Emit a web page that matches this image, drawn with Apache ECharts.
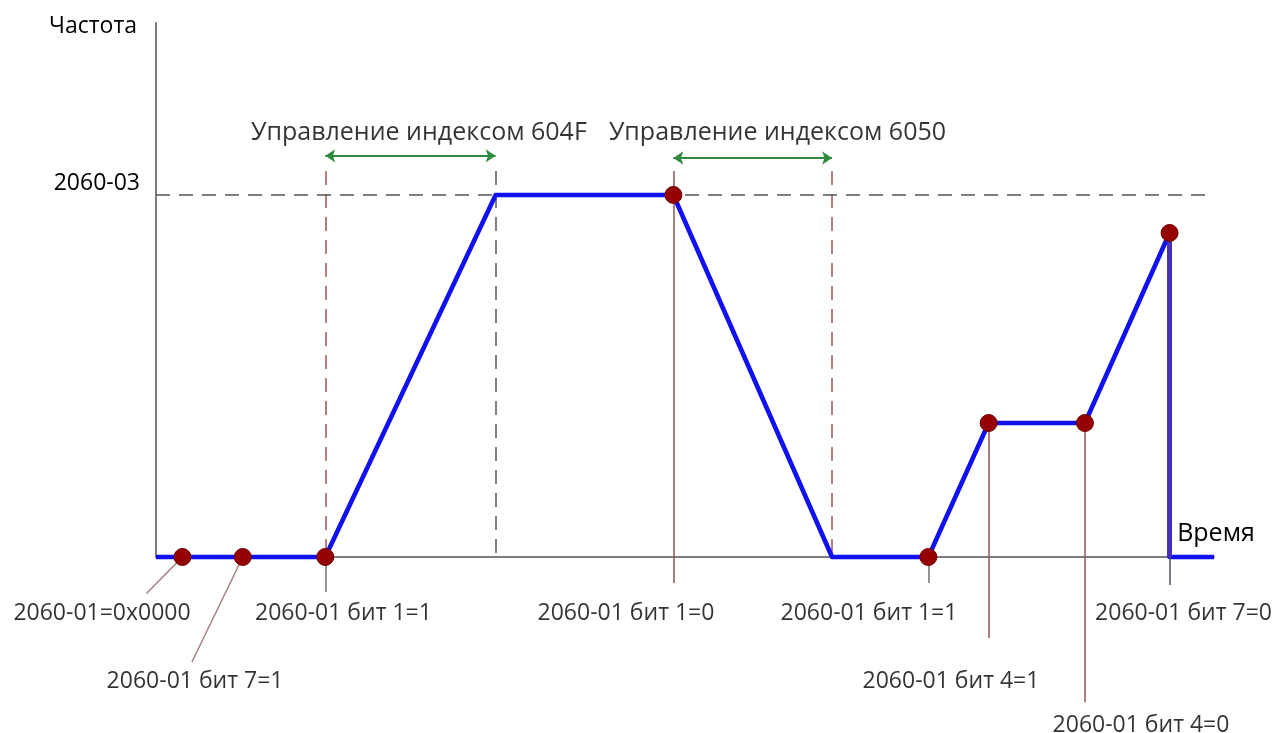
<!DOCTYPE html>
<html>
<head>
<meta charset="utf-8">
<script src="https://cdn.jsdelivr.net/npm/echarts@6/dist/echarts.min.js"></script>
<style>
  html, body { margin: 0; padding: 0; background: #ffffff; }
  #chart { width: 1275px; height: 733px; }
</style>
</head>
<body>
<div id="chart"></div>
<script>
// Frequency profile over time (time in relative units 0..100, frequency in % of the 2060-03 limit)
const profileTime = [0, 2.5, 8.2, 16.0, 32.1, 48.9, 63.9, 73.0, 78.7, 87.8, 95.8, 95.8, 100];
const profileFreq = [0, 0, 0, 0, 100, 100, 0, 0, 37, 37, 89.5, 0, 0];

// Control-word events (dots on the profile)
const eventTime = [2.5, 8.2, 16.0, 48.9, 73.0, 78.7, 87.8, 95.8];
const eventFreq = [0, 0, 0, 100, 0, 37, 37, 89.5];
const eventText = ['2060-01=0x0000', '2060-01 бит 7=1', '2060-01 бит 1=1', '2060-01 бит 1=0',
                   '2060-01 бит 1=1', '2060-01 бит 4=1', '2060-01 бит 4=0', '2060-01 бит 7=0'];

// Ramp phases controlled by objects 604F / 6050
const phaseStart = [16.0, 48.9];
const phaseEnd = [32.1, 63.9];
const phaseText = ['Управление индексом 604F', 'Управление индексом 6050'];

// Axis texts
const freqLimitValue = 100;
const freqLimitText = '2060-03';
const yAxisTitle = 'Частота';
const xAxisTitle = 'Время';

// ---- layout of annotations (data coordinates) ----
const guideTop = 106.6;
const arrowLevel = [110.8, 110.2];
const phaseTextLevel = 117.2;
const phaseTextX = [24.85, 58.74];
// label anchor [x, y] per event, and end point of its leader line
const eventLabelPos = [[-5.1, -15.5], [3.69, -34.4], [17.72, -15.5], [44.42, -15.5],
                       [67.39, -15.5], [75.14, -34.4], [93.1, -46.4], [97.12, -15.5]];
const leaderEnd = [[-0.9, -10.1], [3.4, -29.0], [16.0, -9.7], [48.9, -7.2],
                   [73.0, -7.2], [78.7, -22.4], [87.8, -40.1], [95.8, -7.7]];
const leaderColor = ['#a48282', '#a48282', '#707070', '#8e5656', '#707070', '#8e5656', '#8e5656', '#5a4a6a'];

const FONT = 'Open Sans';
const FS = 23;
const FS_WIDE = 25;
const INK = '#000000';

const chart = echarts.init(document.getElementById('chart'), null, { renderer: 'canvas' });

// dashed guides
const guideLines = [
  { coords: [[phaseStart[0], guideTop], [phaseStart[0], 0]], lineStyle: { color: '#9b5555' } },
  { coords: [[phaseEnd[0], guideTop], [phaseEnd[0], 0]], lineStyle: { color: '#555555' } },
  { coords: [[phaseEnd[1], guideTop], [phaseEnd[1], 0]], lineStyle: { color: '#9b5555' } },
  { coords: [[0, freqLimitValue], [100, freqLimitValue]], lineStyle: { color: '#555555' } }
];

// leader lines from each event to its label
const leaderLines = eventTime.map((t, i) => {
  let startY = eventFreq[i];
  if (i === 3) startY = guideTop;   // 604F->6050 boundary line runs full height
  return { coords: [[t, startY], leaderEnd[i]], lineStyle: { color: leaderColor[i] } };
});

const arrows = phaseStart.map((s, i) => ({ coords: [[s, arrowLevel[i]], [phaseEnd[i], arrowLevel[i]]] }));

const eventTextPoints = eventText.map((txt, i) => ({ value: [eventLabelPos[i][0], eventLabelPos[i][1], txt] }));
const phaseTextPoints = phaseText.map((txt, i) => ({ value: [phaseTextX[i], phaseTextLevel, txt] }));

chart.setOption({
  animation: false,
  backgroundColor: '#ffffff',
  textStyle: { fontFamily: FONT },
  grid: { left: 156, right: 61, top: 23, bottom: 176, outerBoundsMode: 'none', containLabel: false },
  xAxis: {
    type: 'value', min: 0, max: 100,
    axisLine: { show: true, onZero: true, lineStyle: { color: '#7d7d7d', width: 2 } },
    axisTick: { show: false }, axisLabel: { show: false }, splitLine: { show: false },
    name: xAxisTitle, nameLocation: 'end', nameGap: 2,
    nameTextStyle: { fontFamily: FONT, fontSize: FS_WIDE, color: INK, align: 'center', verticalAlign: 'bottom', padding: [0, 0, 11, 0] }
  },
  yAxis: {
    type: 'value', min: 0, max: 147.5, interval: 100,
    axisLine: { show: true, lineStyle: { color: '#7d7d7d', width: 2 } },
    axisTick: { show: false }, splitLine: { show: false },
    axisLabel: {
      show: true, margin: 16, fontFamily: FONT, fontSize: FS, color: INK,
      verticalAlign: 'bottom',
      formatter: v => (v === freqLimitValue ? freqLimitText : '')
    },
    name: yAxisTitle, nameLocation: 'end', nameGap: -3,
    nameTextStyle: { fontFamily: FONT, fontSize: FS, color: INK, align: 'right', verticalAlign: 'middle', padding: [0, 19, 0, 0] }
  },
  series: [
    {
      type: 'lines', coordinateSystem: 'cartesian2d', clip: false, z: 2, silent: true,
      lineStyle: { width: 1.5, type: [14, 9], opacity: 1 },
      data: guideLines
    },
    {
      type: 'line', name: 'Частота', z: 3, clip: false, symbol: 'none', silent: true,
      lineStyle: { color: '#1010f0', width: 4.6, join: 'round' },
      data: profileTime.map((t, i) => [t, profileFreq[i]])
    },
    {
      type: 'lines', coordinateSystem: 'cartesian2d', clip: false, z: 4, silent: true,
      lineStyle: { width: 1.5, type: 'solid', opacity: 1 },
      data: leaderLines
    },
    {
      // final stop drawn over the profile
      type: 'lines', coordinateSystem: 'cartesian2d', clip: false, z: 4, silent: true,
      lineStyle: { width: 4.6, color: '#4a30b4', opacity: 1 },
      data: [{ coords: [[eventTime[7], eventFreq[7]], [eventTime[7], 0]] }]
    },
    {
      type: 'lines', coordinateSystem: 'cartesian2d', clip: false, z: 4, silent: true,
      symbol: ['arrow', 'arrow'], symbolSize: 10,
      lineStyle: { width: 2, color: '#2e8b3c', opacity: 1 },
      data: arrows
    },
    {
      type: 'scatter', z: 6, clip: false, silent: true,
      symbol: 'circle', symbolSize: 17,
      itemStyle: { color: '#950000', borderColor: '#6e0000', borderWidth: 1, opacity: 1 },
      data: eventTime.map((t, i) => [t, eventFreq[i]])
    },
    {
      type: 'scatter', z: 7, clip: false, silent: true, symbolSize: 0,
      label: {
        show: true, position: 'inside', fontFamily: FONT, fontSize: FS, color: INK,
        formatter: p => p.value[2]
      },
      data: eventTextPoints
    },
    {
      type: 'scatter', z: 7, clip: false, silent: true, symbolSize: 0,
      label: {
        show: true, position: 'inside', fontFamily: FONT, fontSize: FS_WIDE, color: INK,
        formatter: p => p.value[2]
      },
      data: phaseTextPoints
    }
  ]
});
</script>
</body>
</html>
